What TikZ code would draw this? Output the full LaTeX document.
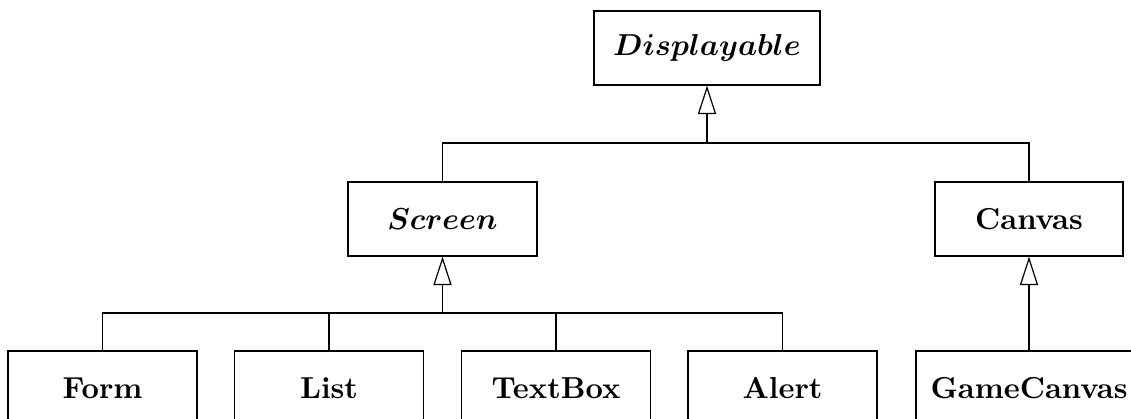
\documentclass[tikz,border=0pt]{standalone}
\usepackage{bm}
\usetikzlibrary{arrows.meta}
\begin{document}
\begin{tikzpicture}[x=0.33pt,y=-0.33pt,
  cls/.style={draw,line width=0.4pt,minimum width=189*0.33pt,minimum height=74*0.33pt,inner sep=0pt,font=\bfseries},
  inh/.style={-{Triangle[open,length=9.4pt,width=6pt]},line width=0.4pt},
  conn/.style={line width=0.4pt}]
\useasboundingbox (0,0) rectangle (1131,418);
\clip (0,0) rectangle (1131,418);
\node[cls,minimum width=226*0.33pt] (disp) at (707,48) {$\bm{Displayable}$};
\node[cls] (screen) at (442.5,219) {$\bm{Screen}$};
\node[cls,minimum width=188*0.33pt] (canvas) at (1029,219) {Canvas};
\node[cls] (form) at (102.5,388) {Form};
\node[cls] (list) at (329,388) {List};
\node[cls] (textbox) at (556,388) {TextBox};
\node[cls] (alert) at (782.5,388) {Alert};
\node[cls,minimum width=226*0.33pt] (game) at (1029,388) {GameCanvas};
\coordinate (tbus) at (707,143);
\coordinate (sbus) at (442.5,313);
\draw[conn] (screen.north) -- (screen.north |- tbus) -- (canvas.north |- tbus) -- (canvas.north);
\draw[inh] (tbus) -- (disp.south);
\draw[conn] (form.north) -- (form.north |- sbus) -- (alert.north |- sbus) -- (alert.north);
\draw[conn] (list.north) -- (list.north |- sbus);
\draw[conn] (textbox.north) -- (textbox.north |- sbus);
\draw[inh] (sbus) -- (screen.south);
\draw[inh] (game.north) -- (canvas.south);
\end{tikzpicture}
\end{document}
